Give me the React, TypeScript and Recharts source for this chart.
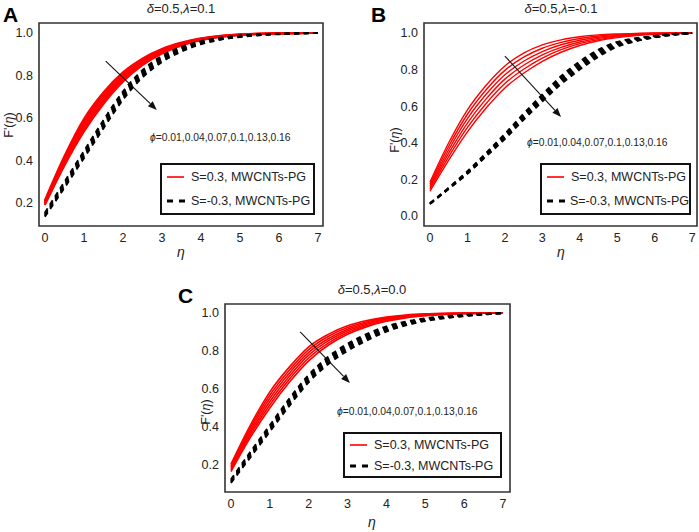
import { LineChart, Line, XAxis, YAxis, ReferenceArea, ReferenceLine } from 'recharts';

const ETA = [0, 0.5, 1, 1.5, 2, 2.5, 3, 3.5, 4, 4.5, 5, 5.5, 6, 6.5, 7];
const X_TICKS = [0, 1, 2, 3, 4, 5, 6, 7];

// panel A: delta=0.5, lambda=0.1
const RED_A = [
  [0.213, 0.42, 0.595, 0.72, 0.815, 0.88, 0.925, 0.955, 0.975, 0.987, 0.994, 0.997, 0.999, 1.0, 1.0],
  [0.208, 0.411, 0.583, 0.709, 0.806, 0.874, 0.921, 0.952, 0.973, 0.986, 0.993, 0.997, 0.999, 1.0, 1.0],
  [0.204, 0.402, 0.571, 0.698, 0.797, 0.867, 0.916, 0.949, 0.971, 0.985, 0.992, 0.996, 0.999, 1.0, 1.0],
  [0.199, 0.393, 0.559, 0.687, 0.788, 0.861, 0.912, 0.947, 0.97, 0.984, 0.992, 0.996, 0.998, 0.999, 1.0],
  [0.195, 0.384, 0.547, 0.676, 0.779, 0.854, 0.907, 0.944, 0.968, 0.982, 0.991, 0.995, 0.998, 0.999, 1.0],
  [0.19, 0.375, 0.535, 0.665, 0.77, 0.848, 0.903, 0.941, 0.966, 0.981, 0.99, 0.995, 0.998, 0.999, 1.0],
];
const BLACK_A = [
  [0.155, 0.3, 0.445, 0.59, 0.725, 0.825, 0.893, 0.935, 0.962, 0.978, 0.988, 0.994, 0.997, 0.999, 1.0],
  [0.151, 0.294, 0.438, 0.582, 0.717, 0.818, 0.887, 0.93, 0.959, 0.976, 0.987, 0.993, 0.996, 0.999, 1.0],
  [0.147, 0.288, 0.431, 0.574, 0.709, 0.811, 0.881, 0.926, 0.956, 0.974, 0.985, 0.992, 0.996, 0.998, 1.0],
  [0.143, 0.282, 0.424, 0.566, 0.701, 0.804, 0.875, 0.921, 0.952, 0.972, 0.984, 0.991, 0.995, 0.998, 1.0],
  [0.139, 0.276, 0.417, 0.558, 0.693, 0.797, 0.869, 0.917, 0.949, 0.97, 0.982, 0.99, 0.995, 0.997, 1.0],
  [0.135, 0.27, 0.41, 0.55, 0.685, 0.79, 0.863, 0.912, 0.946, 0.968, 0.981, 0.989, 0.994, 0.997, 1.0],
];

// panel B: delta=0.5, lambda=-0.1
const RED_B = [
  [0.185, 0.4, 0.58, 0.715, 0.82, 0.89, 0.935, 0.963, 0.98, 0.99, 0.995, 0.998, 1.0, 1.0, 1.0],
  [0.175, 0.381, 0.556, 0.69, 0.796, 0.868, 0.917, 0.949, 0.97, 0.984, 0.991, 0.996, 0.999, 0.999, 1.0],
  [0.165, 0.362, 0.532, 0.665, 0.772, 0.846, 0.899, 0.936, 0.961, 0.977, 0.987, 0.993, 0.997, 0.999, 1.0],
  [0.155, 0.343, 0.508, 0.64, 0.748, 0.824, 0.881, 0.922, 0.951, 0.971, 0.983, 0.991, 0.996, 0.998, 1.0],
  [0.145, 0.324, 0.484, 0.615, 0.724, 0.802, 0.863, 0.909, 0.942, 0.964, 0.979, 0.988, 0.994, 0.998, 1.0],
  [0.135, 0.305, 0.46, 0.59, 0.7, 0.78, 0.845, 0.895, 0.932, 0.958, 0.975, 0.986, 0.993, 0.997, 1.0],
];
const BLACK_B = [
  [0.07, 0.155, 0.245, 0.345, 0.45, 0.56, 0.665, 0.765, 0.845, 0.91, 0.952, 0.972, 0.985, 0.995, 1.0],
  [0.069, 0.153, 0.242, 0.341, 0.444, 0.553, 0.657, 0.756, 0.836, 0.902, 0.947, 0.969, 0.983, 0.994, 1.0],
  [0.068, 0.152, 0.239, 0.337, 0.438, 0.546, 0.649, 0.747, 0.827, 0.894, 0.941, 0.965, 0.981, 0.993, 0.999],
  [0.067, 0.15, 0.236, 0.333, 0.432, 0.539, 0.641, 0.738, 0.818, 0.886, 0.936, 0.962, 0.979, 0.992, 0.999],
  [0.066, 0.149, 0.233, 0.329, 0.426, 0.532, 0.633, 0.729, 0.809, 0.878, 0.93, 0.958, 0.977, 0.991, 0.998],
  [0.065, 0.147, 0.23, 0.325, 0.42, 0.525, 0.625, 0.72, 0.8, 0.87, 0.925, 0.955, 0.975, 0.99, 0.998],
];

// panel C: delta=0.5, lambda=0.0
const RED_C = [
  [0.205, 0.41, 0.585, 0.715, 0.822, 0.887, 0.932, 0.96, 0.978, 0.989, 0.995, 0.998, 0.999, 1.0, 1.0],
  [0.197, 0.397, 0.568, 0.699, 0.807, 0.876, 0.923, 0.954, 0.974, 0.986, 0.993, 0.997, 0.998, 1.0, 1.0],
  [0.189, 0.384, 0.551, 0.683, 0.792, 0.864, 0.914, 0.947, 0.969, 0.983, 0.991, 0.996, 0.998, 0.999, 1.0],
  [0.181, 0.371, 0.534, 0.667, 0.778, 0.853, 0.906, 0.941, 0.965, 0.98, 0.989, 0.994, 0.997, 0.999, 1.0],
  [0.173, 0.358, 0.517, 0.651, 0.763, 0.841, 0.897, 0.934, 0.96, 0.977, 0.987, 0.993, 0.997, 0.998, 1.0],
  [0.165, 0.345, 0.5, 0.635, 0.748, 0.83, 0.888, 0.928, 0.956, 0.974, 0.985, 0.992, 0.996, 0.998, 1.0],
];
const BLACK_C = [
  [0.125, 0.27, 0.41, 0.55, 0.675, 0.77, 0.838, 0.89, 0.93, 0.955, 0.972, 0.983, 0.99, 0.995, 1.0],
  [0.121, 0.264, 0.403, 0.542, 0.667, 0.762, 0.83, 0.883, 0.924, 0.951, 0.969, 0.981, 0.989, 0.994, 1.0],
  [0.117, 0.258, 0.396, 0.534, 0.659, 0.754, 0.823, 0.876, 0.919, 0.947, 0.966, 0.979, 0.987, 0.994, 0.999],
  [0.113, 0.252, 0.389, 0.526, 0.651, 0.746, 0.815, 0.869, 0.913, 0.942, 0.963, 0.976, 0.986, 0.993, 0.999],
  [0.109, 0.246, 0.382, 0.518, 0.643, 0.738, 0.808, 0.862, 0.908, 0.938, 0.96, 0.974, 0.984, 0.992, 0.998],
  [0.105, 0.24, 0.375, 0.51, 0.635, 0.73, 0.8, 0.855, 0.902, 0.934, 0.957, 0.972, 0.983, 0.992, 0.998],
];

const Y_TICKS_A = [0.2, 0.4, 0.6, 0.8, 1.0];
const Y_TICKS_B = [0.0, 0.2, 0.4, 0.6, 0.8, 1.0];
const Y_TICKS_C = [0.2, 0.4, 0.6, 0.8, 1.0];

const PHI_TEXT = '=0.01,0.04,0.07,0.1,0.13,0.16';
const FONT = '"Liberation Sans", Arial, sans-serif';

function buildRows(red: number[][], black: number[][]) {
  return ETA.map((eta, i) => {
    const row: Record<string, number> = { eta };
    red.forEach((s, k) => { row['r' + k] = s[i]; });
    black.forEach((s, k) => { row['b' + k] = s[i]; });
    return row;
  });
}

const Arrow = (p: any) => {
  const { x1, y1, x2, y2 } = p;
  const a = Math.atan2(y2 - y1, x2 - x1);
  const len = 9, w = 3.5;
  const bx = x2 - len * Math.cos(a), by = y2 - len * Math.sin(a);
  const pts = `${x2},${y2} ${bx + w * Math.sin(a)},${by - w * Math.cos(a)} ${bx - w * Math.sin(a)},${by + w * Math.cos(a)}`;
  return (
    <g>
      <line x1={x1} y1={y1} x2={bx} y2={by} stroke="#111" strokeWidth={1.1} />
      <polygon points={pts} fill="#111" />
    </g>
  );
};

interface PanelProps {
  red: number[][];
  black: number[][];
  redWidth: number;
  left: number;
  top: number;
  width: number;
  height: number;
  margin: { top: number; right: number; bottom: number; left: number };
  xDomain: [number, number];
  yDomain: [number, number];
  yTicks: number[];
  arrow: [{ x: number; y: number }, { x: number; y: number }];
}

function Panel(p: PanelProps) {
  const data = buildRows(p.red, p.black);
  const tick = { fill: '#222', fontSize: 12.5, fontFamily: FONT };
  return (
    <div style={{ position: 'absolute', left: p.left, top: p.top }}>
      <LineChart width={p.width} height={p.height} data={data} margin={p.margin}>
        <XAxis type="number" dataKey="eta" domain={p.xDomain} ticks={X_TICKS} allowDataOverflow
          axisLine={false} tickLine={false} tickSize={3} tickMargin={4} height={30} tick={tick} />
        <YAxis type="number" domain={p.yDomain} ticks={p.yTicks} allowDataOverflow
          axisLine={false} tickLine={false} tickSize={3} tickMargin={3} width={34} tick={tick}
          tickFormatter={(v: number) => v.toFixed(1)} />
        {p.red.map((_, k) => (
          <Line key={'r' + k} dataKey={'r' + k} type="monotone" stroke="#ff0000" strokeWidth={p.redWidth}
            dot={false} isAnimationActive={false} />
        ))}
        {p.black.map((_, k) => (
          <Line key={'b' + k} dataKey={'b' + k} type="monotone" stroke="#000" strokeWidth={1.8}
            strokeDasharray="5 4.5" dot={false} isAnimationActive={false} />
        ))}
        <ReferenceArea x1={p.xDomain[0]} x2={p.xDomain[1]} y1={p.yDomain[0]} y2={p.yDomain[1]}
          fill="none" stroke="#333" strokeWidth={1.6} fillOpacity={0} ifOverflow="visible" />
        <ReferenceLine segment={p.arrow} ifOverflow="visible" shape={Arrow} />
      </LineChart>
    </div>
  );
}

const abs = (left: number, top: number, extra: React.CSSProperties = {}): React.CSSProperties => ({
  position: 'absolute', left, top, whiteSpace: 'nowrap', fontFamily: FONT, color: '#222', ...extra,
});

function Title({ cx, y, lam }: { cx: number; y: number; lam: string }) {
  return (
    <div style={abs(cx - 40, y, { width: 80, textAlign: 'center', fontSize: 13, lineHeight: '14px' })}>
      <i>δ</i>=0.5,<i>λ</i>={lam}
    </div>
  );
}

function Letter({ x, y, t }: { x: number; y: number; t: string }) {
  return <div style={abs(x, y, { fontSize: 21, fontWeight: 'bold', lineHeight: '21px', color: '#000' })}>{t}</div>;
}

function YLabel({ cx, cy }: { cx: number; cy: number }) {
  return (
    <div style={abs(cx - 20, cy - 7, { width: 40, textAlign: 'center', fontSize: 12.5, lineHeight: '14px', transform: 'rotate(-90deg)' })}>
      F'(<i>η</i>)
    </div>
  );
}

function XLabel({ cx, cy }: { cx: number; cy: number }) {
  return <div style={abs(cx - 10, cy - 8, { width: 20, textAlign: 'center', fontSize: 14, lineHeight: '16px' })}><i>η</i></div>;
}

function Phi({ x, cy }: { x: number; cy: number }) {
  return <div style={abs(x, cy - 6, { fontSize: 10.3, lineHeight: '12px' })}><i>ϕ</i>{PHI_TEXT}</div>;
}

function LegendBox({ x, y, w, h }: { x: number; y: number; w: number; h: number }) {
  const row: React.CSSProperties = { display: 'flex', alignItems: 'center', height: (h - 4) / 2 };
  return (
    <div style={abs(x, y, { width: w - 4, height: h - 4, border: '2px solid #111', background: '#fff', fontSize: 12.5 })}>
      <div style={row}>
        <svg width={28} height={6} style={{ marginLeft: 5, marginRight: 3 }}>
          <line x1={0} y1={3} x2={17} y2={3} stroke="#ff0000" strokeWidth={1.6} />
        </svg>
        <span style={{ marginLeft: -7 }}>S=0.3, MWCNTs-PG</span>
      </div>
      <div style={row}>
        <svg width={28} height={6} style={{ marginLeft: 5, marginRight: 3 }}>
          <line x1={0} y1={3} x2={18} y2={3} stroke="#000" strokeWidth={3} strokeDasharray="6 6" />
        </svg>
        <span style={{ marginLeft: -7 }}>S=-0.3, MWCNTs-PG</span>
      </div>
    </div>
  );
}

export default function App() {
  return (
    <div style={{ position: 'absolute', left: 0, top: 0, width: 699, height: 532, background: '#fff', overflow: 'hidden' }}>
      <Panel red={RED_A} black={BLACK_A} redWidth={2.0} left={0} top={0} width={335} height={262}
        margin={{ top: 23, right: 12, bottom: 6, left: 5 }}
        xDomain={[-0.15, 7.13]} yDomain={[0.092, 1.047]} yTicks={Y_TICKS_A}
        arrow={[{ x: 1.56, y: 0.868 }, { x: 2.87, y: 0.638 }]} />
      <Panel red={RED_B} black={BLACK_B} redWidth={1.4} left={380} top={0} width={319} height={262}
        margin={{ top: 23, right: 2, bottom: 6, left: 10 }}
        xDomain={[-0.16, 7.13]} yDomain={[-0.055, 1.055]} yTicks={Y_TICKS_B}
        arrow={[{ x: 2.0, y: 0.874 }, { x: 3.5, y: 0.541 }]} />
      <Panel red={RED_C} black={BLACK_C} redWidth={1.6} left={190} top={280} width={330} height={252}
        margin={{ top: 24, right: 10, bottom: 10, left: 1 }}
        xDomain={[-0.154, 7.18]} yDomain={[0.058, 1.047]} yTicks={Y_TICKS_C}
        arrow={[{ x: 1.78, y: 0.9 }, { x: 3.06, y: 0.632 }]} />

      <Letter x={3} y={4} t="A" />
      <Letter x={371} y={4} t="B" />
      <Letter x={178} y={285} t="C" />

      <Title cx={181} y={2} lam="0.1" />
      <Title cx={561} y={2} lam="-0.1" />
      <Title cx={372} y={283} lam="0.0" />

      <YLabel cx={9} cy={125} />
      <YLabel cx={395} cy={140} />
      <YLabel cx={206} cy={412} />

      <XLabel cx={181} cy={252} />
      <XLabel cx={561} cy={252} />
      <XLabel cx={372} cy={522} />

      <Phi x={150} cy={138} />
      <Phi x={527} cy={143} />
      <Phi x={337} cy={412} />

      <LegendBox x={160} y={163} w={155} h={52} />
      <LegendBox x={540} y={163} w={151} h={52} />
      <LegendBox x={343} y={432} w={159} h={46} />
    </div>
  );
}
